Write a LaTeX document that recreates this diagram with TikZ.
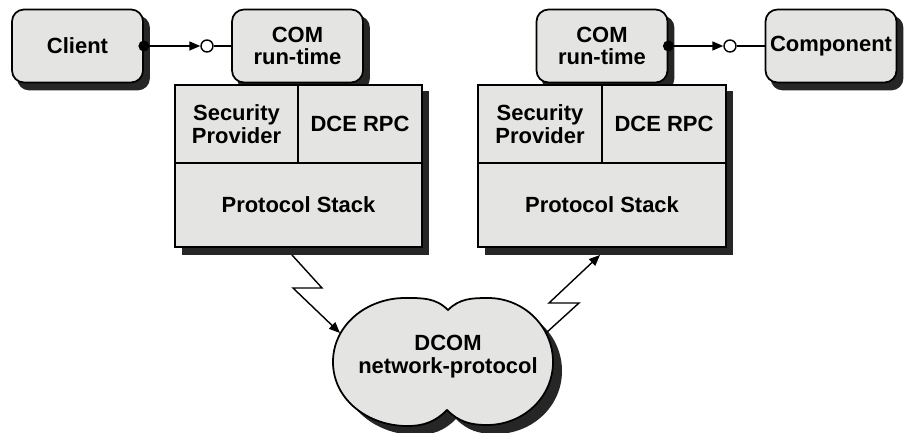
\documentclass[tikz,border=0pt]{standalone}
\usepackage{fontspec}
\setsansfont{Liberation Sans}
\usepackage{tikz}
\usetikzlibrary{arrows.meta, calc}
\definecolor{StipGray}{RGB}{228,228,226}
\definecolor{ShadeDark}{RGB}{38,38,38}
\pgfdeclarelayer{shadowlayer}
\pgfsetlayers{shadowlayer,main}

% outline of the network cloud
\def\cloudpath{(333,70) to[out=90,in=180] (405,134) to[out=0,in=135] (448,122)
    to[out=45,in=180] (488,134) to[out=0,in=90] (553,70)
    to[out=-90,in=0] (487,7) to[out=180,in=-45] (447,22)
    to[out=-135,in=0] (407,6) to[out=180,in=-90] (333,70) -- cycle}

\begin{document}
\begin{tikzpicture}[x=0.2mm, y=0.2mm, font=\sffamily\bfseries\fontsize{12.5}{13}\selectfont,
    rtbox/.style={draw, line width=1pt, rounded corners=2.4mm, fill=StipGray,
        minimum width=26.2mm, minimum height=14.6mm, align=center, inner sep=1pt},
    cell/.style={draw, line width=1pt, fill=StipGray, align=center,
        anchor=north west, outer sep=0pt, inner sep=1pt},
    sock/.style={draw, circle, line width=0.8pt, fill=white, inner sep=0pt, minimum size=2.4mm},
    link/.style={line width=0.8pt},
    tip/.style={-{Triangle[length=2.2mm,width=1.8mm]}}]
    \useasboundingbox (0,0) rectangle (906,432);

    % protocol stacks on both machines
    \node[cell, minimum width=24.6mm, minimum height=15.6mm] (secL) at (175,347) {Security\\Provider};
    \node[cell, minimum width=24.8mm, minimum height=15.6mm] (dceL) at (secL.north east) {DCE RPC};
    \node[cell, minimum width=49.4mm, minimum height=16.8mm] (protoL) at (secL.south west) {Protocol Stack};

    \node[cell, minimum width=24.8mm, minimum height=15.6mm] (secR) at (478,347) {Security\\Provider};
    \node[cell, minimum width=24.8mm, minimum height=15.6mm] (dceR) at (secR.north east) {DCE RPC};
    \node[cell, minimum width=49.6mm, minimum height=16.8mm] (protoR) at (secR.south west) {Protocol Stack};

    % client, runtimes and component
    \node[rtbox] (client) at (77.5,386) {Client};
    \node[rtbox] (comL) at (297.5,386) {COM\\run-time};
    \node[rtbox] (comR) at (602,386) {COM\\run-time};
    \node[rtbox] (comp) at (831,386) {Component};

    % hard drop shadows
    \begin{pgfonlayer}{shadowlayer}
        \foreach \b in {client, comL, comR, comp}
            \fill[ShadeDark, rounded corners=2.4mm] ($(\b.south west)+(6,-7)$) rectangle ($(\b.north east)+(6,-7)$);
        \fill[ShadeDark] ($(protoL.south west)+(7,-8)$) rectangle ($(dceL.north east)+(7,-6)$);
        \fill[ShadeDark] ($(protoR.south west)+(7,-8)$) rectangle ($(dceR.north east)+(7,-6)$);
        \fill[ShadeDark, shift={(9,-9)}] \cloudpath;
    \end{pgfonlayer}

    % interface sockets
    \node[sock] (sockL) at (207,386) {};
    \fill (client.east) circle (1.1mm);
    \draw[link, tip] (client.east) -- (sockL);
    \draw[link] (sockL) -- (comL);

    \node[sock] (sockR) at (730,386) {};
    \fill (comR.east) circle (1.1mm);
    \draw[link, tip] (comR.east) -- (sockR);
    \draw[link] (sockR) -- (comp);

    % network cloud
    \draw[line width=1pt, fill=StipGray] \cloudpath;
    \node[align=center] (dcom) at (448,75) {DCOM\\network-protocol};

    % lightning links
    \coordinate (boltL) at (292,177);
    \coordinate (cloudW) at (340,99);
    \draw[link, tip] (boltL) -- ++(30,-33) -- ++(-29,0) -- (cloudW);

    \coordinate (cloudE) at (546,99);
    \coordinate (boltR) at (600,177);
    \draw[link, tip] (cloudE) -- ++(33,30) -- ++(-30,0) -- (boltR);
\end{tikzpicture}
\end{document}
